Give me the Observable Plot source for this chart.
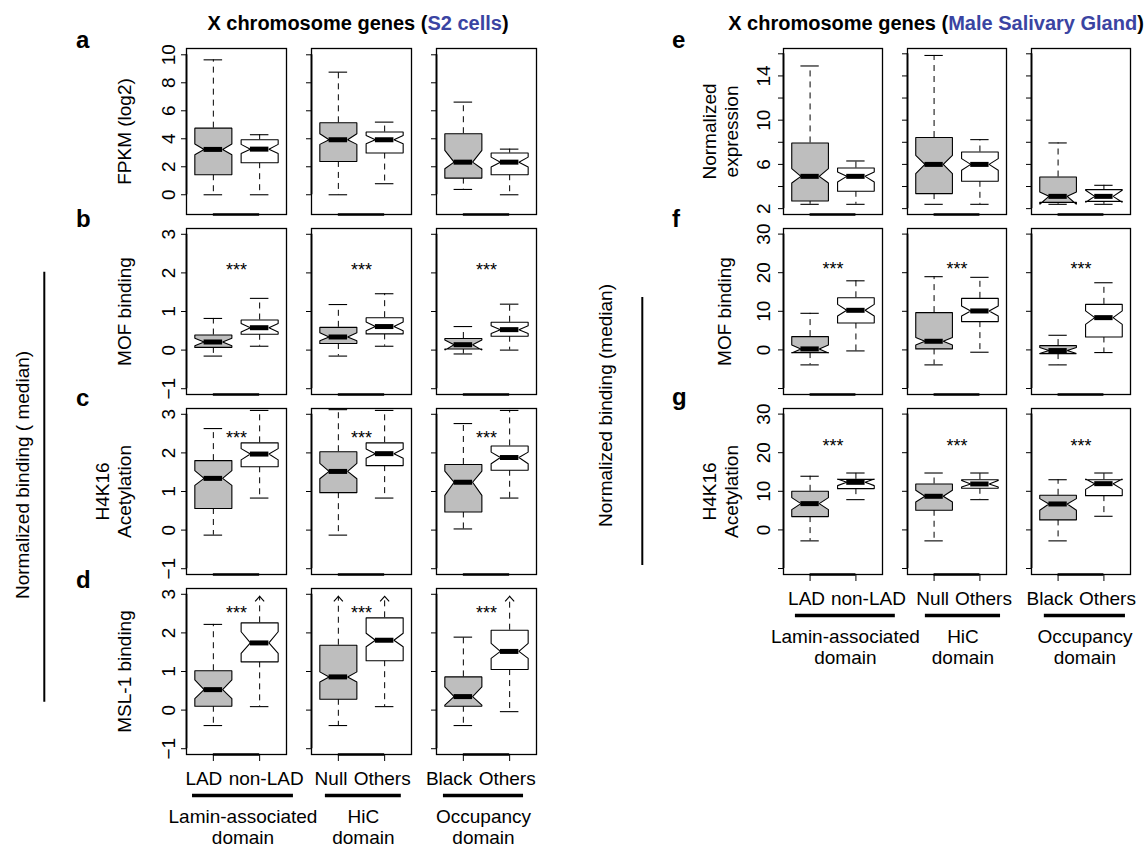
<!DOCTYPE html>
<html>
<head>
<meta charset="utf-8">
<script src="https://cdn.jsdelivr.net/npm/d3@7"></script>
<script src="https://cdn.jsdelivr.net/npm/@observablehq/plot@0.6"></script>
<style>
  html, body { margin: 0; padding: 0; background: #fff; }
  #root { position: relative; width: 1146px; height: 848px; overflow: hidden; background: #fff;
          font-family: "Liberation Sans", Arial, Helvetica, sans-serif; }
</style>
</head>
<body>
<div id="root"></div>
<script>
// ---------------- DATA ----------------
const groupKeys = ["Lamin-associated\ndomain", "HiC\ndomain", "Occupancy\ndomain"];
const categoryLabels = ["LAD", "non-LAD", "Null", "Others", "Black", "Others"];
const significance = ["***", "***", "***"];
const titlePrefix = "X chromosome genes";
const titleS2 = "S2 cells";
const titleSG = "Male Salivary Gland";
const sideLabelS2 = "Normalized binding ( median)";
const sideLabelSG = "Normalized binding (median)";

// each row: [lower whisker, Q1, notch low, median, notch high, Q3, upper whisker]
// upper whisker null = whisker runs beyond the axis (drawn as an arrow)
const s2Fpkm = [
  [0.00, 1.43, 2.86, 3.24, 3.62, 4.76, 9.64],
  [0.00, 2.29, 2.95, 3.26, 3.60, 3.93, 4.29],
  [0.00, 2.38, 3.60, 3.93, 4.36, 5.14, 8.76],
  [0.79, 2.98, 3.64, 3.93, 4.24, 4.48, 5.19],
  [0.38, 1.19, 1.86, 2.33, 3.17, 4.36, 6.62],
  [0.00, 1.43, 1.98, 2.33, 2.69, 2.98, 3.26]
];
const s2Mof = [
  [-0.155, 0.07, 0.11, 0.21, 0.31, 0.39, 0.82],
  [0.10, 0.41, 0.47, 0.58, 0.69, 0.78, 1.34],
  [-0.155, 0.17, 0.24, 0.34, 0.45, 0.59, 1.18],
  [0.10, 0.42, 0.50, 0.61, 0.73, 0.84, 1.46],
  [-0.10, 0.03, 0.00, 0.14, 0.26, 0.30, 0.61],
  [0.00, 0.36, 0.43, 0.53, 0.63, 0.72, 1.19]
];
const s2H4K16ac = [
  [-0.13, 0.56, 1.16, 1.34, 1.54, 1.80, 2.63],
  [0.83, 1.64, 1.82, 1.97, 2.11, 2.26, 3.10],
  [-0.13, 0.97, 1.33, 1.52, 1.73, 2.03, 3.12],
  [0.83, 1.67, 1.86, 1.98, 2.10, 2.26, 3.10],
  [0.03, 0.47, 0.90, 1.24, 1.53, 1.70, 2.76],
  [0.83, 1.55, 1.72, 1.88, 2.02, 2.18, 3.10]
];
const s2Msl1 = [
  [-0.40, 0.10, 0.30, 0.53, 0.78, 1.02, 2.22],
  [0.09, 1.25, 1.47, 1.74, 2.03, 2.26, null],
  [-0.40, 0.28, 0.73, 0.86, 0.99, 1.68, null],
  [0.09, 1.28, 1.64, 1.81, 1.99, 2.39, null],
  [-0.40, 0.10, 0.13, 0.35, 0.60, 0.86, 1.89],
  [-0.04, 1.05, 1.34, 1.52, 1.73, 2.07, null]
];
const sgExpression = [
  [2.39, 2.69, 4.32, 4.92, 5.62, 7.94, 14.90],
  [2.39, 3.57, 4.41, 4.92, 5.31, 5.67, 6.31],
  [2.39, 3.36, 5.17, 6.00, 6.82, 8.43, 15.85],
  [2.39, 4.47, 5.47, 6.00, 6.52, 7.12, 8.24],
  [2.39, 2.57, 2.40, 3.11, 3.50, 4.86, 7.94],
  [2.39, 2.66, 2.57, 3.11, 3.66, 3.72, 4.11]
];
const sgMof = [
  [-3.88, -0.69, -0.80, 0.26, 1.30, 3.45, 9.48],
  [-0.26, 6.98, 8.80, 10.26, 11.80, 13.50, 17.90],
  [-3.88, 0.26, 1.29, 2.24, 3.19, 9.66, 18.97],
  [-0.60, 7.33, 8.80, 10.09, 11.40, 13.36, 18.80],
  [-3.88, -0.95, -0.95, -0.17, 0.60, 1.12, 3.79],
  [-0.69, 3.36, 6.60, 8.36, 10.10, 11.80, 17.40]
];
const sgH4K16ac = [
  [-2.84, 3.45, 5.26, 6.81, 8.36, 10.00, 13.90],
  [7.84, 10.69, 11.47, 12.33, 13.20, 13.10, 14.74],
  [-2.84, 5.09, 7.24, 8.71, 10.26, 11.90, 14.74],
  [7.84, 10.78, 11.10, 11.90, 12.80, 13.00, 14.74],
  [-2.84, 2.59, 5.10, 6.72, 8.10, 8.97, 13.00],
  [3.53, 8.88, 10.50, 11.98, 13.20, 13.00, 14.74]
];

// axis ticks and labelled ticks
const ticksFpkm = [0, 2, 4, 6, 8, 10];
const ticksBinding = [-1, 0, 1, 2, 3];
const ticksExpression = [2, 4, 6, 8, 10, 12, 14, 16];
const labelsExpression = [2, 6, 10, 14];
const ticksSG = [-10, 0, 10, 20, 30];
const labelsSG = [0, 10, 20, 30];

// axis ranges
const yDomainFpkm = [-1.41, 10.45];
const yDomainBinding = [-1.15, 3.15];
const yDomainExpression = [1.47, 16.48];
const yDomainSG = [-11.55, 31.45];

// significance label heights
const starS2 = [2.2, 2.49, 2.62];
const starSG = [22, 22.8];

// ---------------- LAYOUT ----------------
const X_DOMAIN = [0.42, 2.58];
const BOX_HALF = 0.4, NOTCH_HALF = 0.2;
const FRAME_H = 166;
const GRAY = "#bebebe";
const FONT = '"Liberation Sans", Arial, Helvetica, sans-serif';

const leftBlock = {svgLeft: 0, svgWidth: 560, frameLeft: 186, frameRight: 536,
  tickLabelDx: -18, firstDx: 9, secondDx: -31,
  brackets: [[0.55, 2.73], [0.72, 2.36], [0.57, 2.30]]};
const rightBlock = {svgLeft: 580, svgWidth: 566, frameLeft: 782, frameRight: 1131,
  tickLabelDx: -20, firstDx: 15, secondDx: -25,
  brackets: [[0.68, 2.86], [0.81, 2.45], [0.70, 2.47]]};

const root = document.getElementById("root");

const caret = {
  draw(ctx, size) {
    const r = Math.sqrt(size / Math.PI);
    ctx.moveTo(-r, r * 1.15);
    ctx.lineTo(0, 0);
    ctx.lineTo(r, r * 1.15);
  }
};

const fmt = d => (d < 0 ? "\u2212" + Math.abs(d) : String(d));

function boxRows(values) {
  return values.map((v, i) => ({
    g: groupKeys[Math.floor(i / 2)], pos: (i % 2) + 1, cat: categoryLabels[i],
    fill: i % 2 ? "white" : GRAY,
    lo: v[0], q1: v[1], nlo: v[2], med: v[3], nhi: v[4], q3: v[5], hi: v[6]
  }));
}

function panel(block, spec, frameTop, isBottom) {
  const mt = 20, mb = isBottom ? 110 : 16;
  const rows = boxRows(spec.values);
  const [y0, y1] = spec.yDomain;
  const arrowTip = y1 - (y1 - y0) * 0.047;
  const verts = rows.flatMap((r, i) => [
    [r.pos - BOX_HALF, r.q1], [r.pos + BOX_HALF, r.q1], [r.pos + BOX_HALF, r.nlo],
    [r.pos + NOTCH_HALF, r.med], [r.pos + BOX_HALF, r.nhi], [r.pos + BOX_HALF, r.q3],
    [r.pos - BOX_HALF, r.q3], [r.pos - BOX_HALF, r.nhi], [r.pos - NOTCH_HALF, r.med],
    [r.pos - BOX_HALF, r.nlo], [r.pos - BOX_HALF, r.q1]
  ].map(([x, y]) => ({g: r.g, id: i, fill: r.fill, x, y})));
  const facets = groupKeys.map((g, i) => ({g, i}));
  const firstFacet = () => groupKeys[0];
  const dash = "6,5";

  const marks = [
    Plot.ruleX(rows, {fx: "g", x: "pos", y1: "q1", y2: "lo", strokeDasharray: dash, strokeWidth: 1}),
    Plot.ruleX(rows, {fx: "g", x: "pos", y1: "q3", y2: d => (d.hi ?? arrowTip), strokeDasharray: dash, strokeWidth: 1}),
    Plot.ruleY(rows, {fx: "g", y: "lo", x1: d => d.pos - NOTCH_HALF, x2: d => d.pos + NOTCH_HALF, strokeWidth: 1.1}),
    Plot.ruleY(rows.filter(d => d.hi != null), {fx: "g", y: "hi", x1: d => d.pos - NOTCH_HALF, x2: d => d.pos + NOTCH_HALF, strokeWidth: 1.1}),
    Plot.dot(rows.filter(d => d.hi == null), {fx: "g", x: "pos", y: () => arrowTip, symbol: caret, r: 4.5, stroke: "black", fill: "none", strokeWidth: 1.1}),
    Plot.line(verts, {fx: "g", x: "x", y: "y", z: "id", fill: "fill", stroke: "black", strokeWidth: 1.1, strokeLinejoin: "miter"}),
    Plot.ruleY(rows, {fx: "g", y: "med", x1: d => d.pos - NOTCH_HALF, x2: d => d.pos + NOTCH_HALF, strokeWidth: 5}),
    Plot.frame({stroke: "black", strokeWidth: 1.3}),
    Plot.ruleX(facets, {fx: "g", x: () => X_DOMAIN[0], y1: () => spec.ticks[0], y2: () => spec.ticks[spec.ticks.length - 1], strokeWidth: 1.8}),
    Plot.ruleY(facets, {fx: "g", y: () => y0, x1: () => 1, x2: () => 2, strokeWidth: 2.4}),
    Plot.axisY(spec.ticks, {tickSize: 5, tickFormat: () => "", label: null, facetAnchor: null, strokeWidth: 1}),
    Plot.text(spec.tickLabels, {fx: firstFacet, y: d => d, text: d => fmt(d), frameAnchor: "left",
      rotate: -90, dx: block.tickLabelDx, textAnchor: "middle", lineAnchor: "middle"}),
    Plot.text([spec.yLabel], {fx: firstFacet, text: d => d, frameAnchor: "left", rotate: -90,
      dx: spec.yLabelDx, textAnchor: "middle", lineAnchor: "bottom", lineHeight: 1.15})
  ];
  if (spec.stars) {
    marks.push(Plot.text(facets, {fx: "g", x: () => 1.5, y: () => spec.starY, text: d => spec.stars[d.i],
      fontSize: 18, dy: 4.6, lineAnchor: "middle"}));
  }
  if (isBottom) {
    marks.push(
      Plot.axisX([1, 2], {tickSize: 7, tickFormat: () => "", label: null, facetAnchor: null}),
      Plot.text(rows.filter(d => d.pos === 1), {fx: "g", x: "pos", text: "cat", frameAnchor: "bottom",
        textAnchor: "end", dx: block.firstDx, dy: 30, lineAnchor: "bottom"}),
      Plot.text(rows.filter(d => d.pos === 2), {fx: "g", x: "pos", text: "cat", frameAnchor: "bottom",
        textAnchor: "start", dx: block.secondDx, dy: 30, lineAnchor: "bottom"}),
      Plot.ruleY(facets, {fx: "g", y: () => y0, x1: d => block.brackets[d.i][0], x2: d => block.brackets[d.i][1],
        dy: 41, strokeWidth: 3.5}),
      Plot.text(facets, {fx: "g", x: d => (block.brackets[d.i][0] + block.brackets[d.i][1]) / 2, y: () => y0,
        text: "g", dy: 53, lineAnchor: "top", lineHeight: 1.12})
    );
  }

  const chart = Plot.plot({
    width: block.svgWidth,
    height: mt + FRAME_H + mb,
    marginLeft: block.frameLeft - block.svgLeft,
    marginRight: block.svgLeft + block.svgWidth - block.frameRight,
    marginTop: mt,
    marginBottom: mb,
    fx: {domain: groupKeys, paddingInner: 0.2, paddingOuter: 0, axis: null, label: null},
    x: isBottom ? {domain: X_DOMAIN} : {domain: X_DOMAIN, axis: null},
    y: {domain: spec.yDomain},
    style: {background: "transparent", overflow: "visible", fontFamily: FONT, fontSize: "19px",
      color: "black", maxWidth: "none"},
    marks
  });
  chart.style.position = "absolute";
  chart.style.left = block.svgLeft + "px";
  chart.style.top = (frameTop - mt) + "px";
  root.appendChild(chart);
}

// ---------------- PANELS ----------------
const tops = [48, 228, 408, 588];
const leftSpecs = [
  {values: s2Fpkm, yDomain: yDomainFpkm, ticks: ticksFpkm, tickLabels: ticksFpkm, yLabel: "FPKM (log2)", yLabelDx: -56},
  {values: s2Mof, yDomain: yDomainBinding, ticks: ticksBinding, tickLabels: ticksBinding, yLabel: "MOF binding", yLabelDx: -56, stars: significance, starY: starS2[0]},
  {values: s2H4K16ac, yDomain: yDomainBinding, ticks: ticksBinding, tickLabels: ticksBinding, yLabel: "H4K16\nAcetylation", yLabelDx: -56, stars: significance, starY: starS2[1]},
  {values: s2Msl1, yDomain: yDomainBinding, ticks: ticksBinding, tickLabels: ticksBinding, yLabel: "MSL-1 binding", yLabelDx: -56, stars: significance, starY: starS2[2]}
];
const rightSpecs = [
  {values: sgExpression, yDomain: yDomainExpression, ticks: ticksExpression, tickLabels: labelsExpression, yLabel: "Normalized\nexpression", yLabelDx: -46},
  {values: sgMof, yDomain: yDomainSG, ticks: ticksSG, tickLabels: labelsSG, yLabel: "MOF binding", yLabelDx: -53, stars: significance, starY: starSG[0]},
  {values: sgH4K16ac, yDomain: yDomainSG, ticks: ticksSG, tickLabels: labelsSG, yLabel: "H4K16\nAcetylation", yLabelDx: -46, stars: significance, starY: starSG[1]}
];
leftSpecs.forEach((s, i) => panel(leftBlock, s, tops[i], i === leftSpecs.length - 1));
rightSpecs.forEach((s, i) => panel(rightBlock, s, tops[i], i === rightSpecs.length - 1));

// ---------------- ANNOTATIONS ----------------
const overlay = d3.select(root).append("svg")
  .attr("width", 1146).attr("height", 848)
  .style("position", "absolute").style("left", "0px").style("top", "0px")
  .style("pointer-events", "none")
  .attr("font-family", FONT);

function title(cx, highlight) {
  const t = overlay.append("text").attr("x", cx).attr("y", 30).attr("text-anchor", "middle")
    .attr("font-weight", "bold").attr("font-size", 20).attr("fill", "black");
  t.append("tspan").text(titlePrefix + " (");
  t.append("tspan").attr("fill", "#3a44a2").text(highlight);
  t.append("tspan").text(")");
}
title(358, titleS2);
title(936, titleSG);

const letters = [
  {t: "a", x: 76, y: 48}, {t: "b", x: 76, y: 227}, {t: "c", x: 76, y: 406}, {t: "d", x: 76, y: 588},
  {t: "e", x: 672, y: 48}, {t: "f", x: 672, y: 227}, {t: "g", x: 672, y: 405}
];
overlay.selectAll("text.letter").data(letters).join("text").attr("class", "letter")
  .attr("x", d => d.x).attr("y", d => d.y).attr("font-weight", "bold").attr("font-size", 24)
  .text(d => d.t);

function sideLabel(cx, cy, text, lineX, ly1, ly2) {
  overlay.append("text").attr("transform", `translate(${cx + 6.8},${cy}) rotate(-90)`)
    .attr("text-anchor", "middle").attr("font-size", 19).text(text);
  overlay.append("line").attr("x1", lineX).attr("x2", lineX).attr("y1", ly1).attr("y2", ly2)
    .attr("stroke", "black").attr("stroke-width", 2);
}
sideLabel(21.7, 475, sideLabelS2, 44.3, 271.7, 701.7);
sideLabel(605, 405.5, sideLabelSG, 642.3, 297, 565);
</script>
</body>
</html>
